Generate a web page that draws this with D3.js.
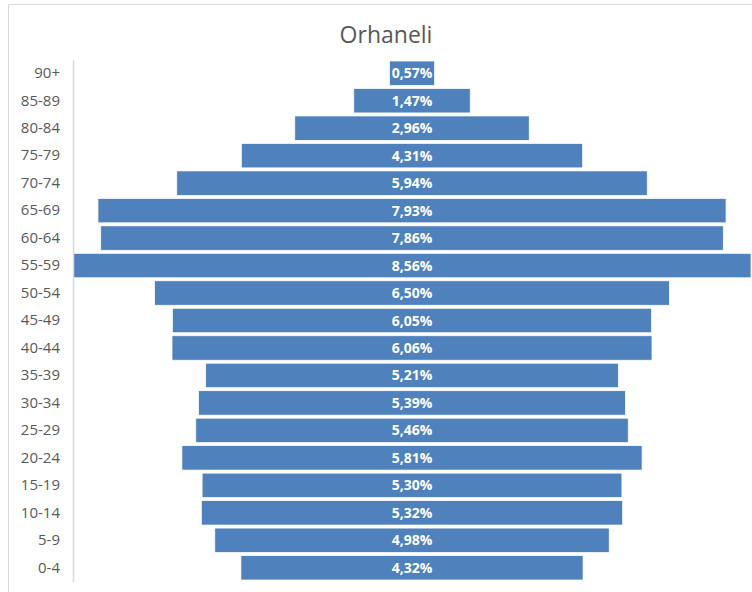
<!DOCTYPE html>
<html>
<head>
<meta charset="utf-8">
<script src="https://cdn.jsdelivr.net/npm/d3@7"></script>
<style>
  body { margin: 0; background: #fff; }
  svg { display: block; font-family: "Open Sans", "Noto Sans", sans-serif; }
</style>
</head>
<body>
<div class="container"></div>
<script>
// age groups, top to bottom
const ageGroups = ["90+", "85-89", "80-84", "75-79", "70-74", "65-69", "60-64", "55-59", "50-54",
                   "45-49", "40-44", "35-39", "30-34", "25-29", "20-24", "15-19", "10-14", "5-9", "0-4"];
const shares = [0.57, 1.47, 2.96, 4.31, 5.94, 7.93, 7.86, 8.56, 6.50,
                6.05, 6.06, 5.21, 5.39, 5.46, 5.81, 5.30, 5.32, 4.98, 4.32];
const title = "Orhaneli";

const w = 752;
const h = 592;
const axisX = 73;
const plotRight = 751;
const plotTop = 59.5;
const plotBottom = 581.5;

const svg = d3.select(".container")
              .append("svg")
              .attr("width", w)
              .attr("height", h);

// chart frame
svg.append("rect")
   .attr("x", 8.5)
   .attr("y", 4.5)
   .attr("width", 800)
   .attr("height", 700)
   .attr("fill", "#fff")
   .attr("stroke", "#d9d9d9");

svg.append("text")
   .attr("x", 386)
   .attr("y", 43)
   .attr("text-anchor", "middle")
   .style("font-size", "23px")
   .style("fill", "#595959")
   .text(title);

const maxShare = d3.max(shares);
const xScale = d3.scaleLinear()
                 .domain([-maxShare / 2, maxShare / 2])
                 .range([axisX, plotRight]);

const yScale = d3.scaleBand()
                 .domain(ageGroups)
                 .range([plotTop, plotBottom])
                 .paddingInner(0.11)
                 .paddingOuter(0.055);

const rows = ageGroups.map((g, i) => ({ group: g, value: shares[i] }));

svg.selectAll("rect.bar")
   .data(rows).enter()
   .append("rect")
   .attr("class", "bar")
   .attr("x", d => xScale(-d.value / 2))
   .attr("y", d => yScale(d.group))
   .attr("width", d => xScale(d.value / 2) - xScale(-d.value / 2))
   .attr("height", yScale.bandwidth())
   .attr("fill", "#4f81bd")
   .attr("stroke", "#fff")
   .attr("stroke-width", 0.75);

svg.selectAll("text.val")
   .data(rows).enter()
   .append("text")
   .attr("class", "val")
   .attr("x", xScale(0))
   .attr("y", d => yScale(d.group) + yScale.bandwidth() / 2)
   .attr("dy", "0.36em")
   .attr("text-anchor", "middle")
   .style("font-size", "14px")
   .style("font-weight", "bold")
   .style("fill", "#fff")
   .text(d => d.value.toFixed(2).replace(".", ",") + "%");

// category axis
const yAxis = d3.axisLeft(yScale).tickSize(0).tickPadding(13);
const yg = svg.append("g")
              .attr("transform", `translate(${axisX}, 0)`)
              .call(yAxis);
yg.select(".domain").attr("stroke", "#d9d9d9").attr("stroke-width", 1.5);
yg.selectAll("text")
  .style("font-size", "15px")
  .style("fill", "#595959")
  .style("font-family", "\"Open Sans\", \"Noto Sans\", sans-serif");
</script>
</body>
</html>
